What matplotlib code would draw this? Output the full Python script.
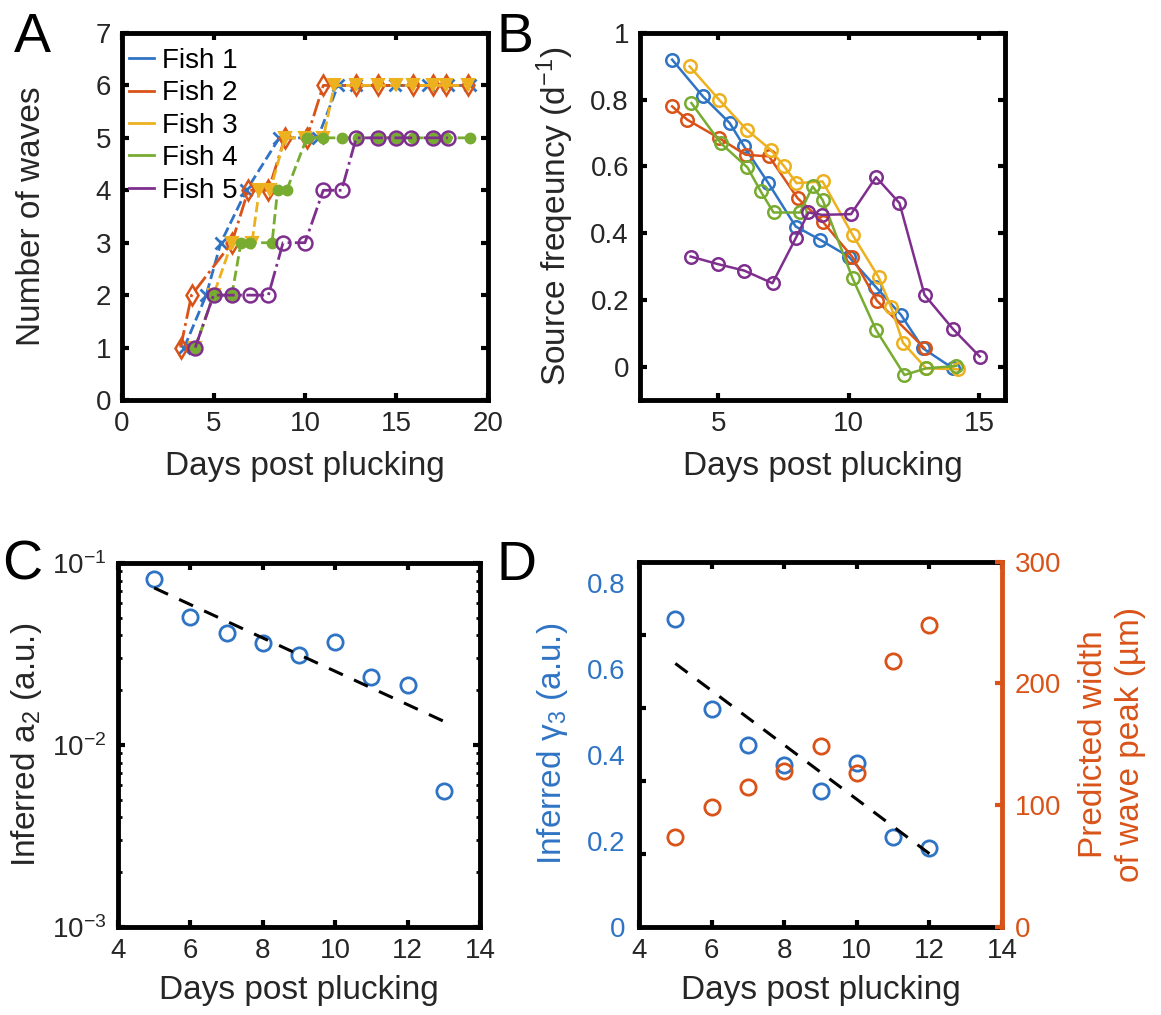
import numpy as np
import matplotlib
matplotlib.use("Agg")
import matplotlib.pyplot as plt
from matplotlib.lines import Line2D

plt.rcParams['font.family'] = ['Liberation Sans', 'DejaVu Sans']
plt.rcParams['mathtext.fontset'] = 'custom'
plt.rcParams['mathtext.rm'] = 'Liberation Sans'
plt.rcParams['mathtext.it'] = 'Liberation Sans:italic'
plt.rcParams['mathtext.default'] = 'regular'

BLUE = '#2f74c4'
ORANGE = '#D95319'
YELLOW = '#EDB120'
PURPLE = '#7E2F8E'
GREEN = '#77AC30'
TXT = '#262626'

# --- A: number of waves per fish ---
fish_labels = ['Fish 1', 'Fish 2', 'Fish 3', 'Fish 4', 'Fish 5']
waves_days = [
    [3.4, 4.6, 5.4, 6.8, 8.6, 10.7, 11.8, 12.8, 14.9, 16.7, 17.8, 19.0],
    [3.2, 3.8, 6.0, 6.9, 8.0, 8.9, 10.1, 11.0, 12.8, 14.0, 15.9, 17.0, 17.7, 18.9],
    [4.0, 5.0, 6.0, 7.1, 7.5, 8.1, 8.9, 10.0, 11.0, 11.6, 12.8, 14.0, 15.0, 15.9, 17.0, 17.7, 18.9],
    [4.0, 5.0, 6.0, 6.5, 7.0, 8.2, 8.5, 9.0, 10.1, 11.0, 12.0, 12.9, 14.0, 15.0, 15.9, 17.0, 17.7, 19.0],
    [4.0, 5.0, 6.0, 7.0, 8.0, 8.8, 10.0, 11.0, 12.0, 12.8, 14.0, 15.0, 15.8, 17.0, 17.8],
]
waves_count = [
    [1, 2, 3, 4, 5, 5, 6, 6, 6, 6, 6, 6],
    [1, 2, 3, 4, 4, 5, 5, 6, 6, 6, 6, 6, 6, 6],
    [1, 2, 3, 3, 4, 4, 5, 5, 5, 6, 6, 6, 6, 6, 6, 6, 6],
    [1, 2, 2, 3, 3, 3, 4, 4, 5, 5, 5, 5, 5, 5, 5, 5, 5, 5],
    [1, 2, 2, 2, 2, 3, 3, 4, 4, 5, 5, 5, 5, 5, 5],
]

# --- B: source frequency per fish ---
freq_days = [
    [3.23, 4.41, 5.44, 5.99, 6.92, 7.97, 8.91, 10.0, 11.03, 12.01, 12.85, 14.0],
    [3.23, 3.81, 5.03, 6.05, 6.95, 8.04, 9.0, 10.13, 11.08, 12.91],
    [3.9, 5.03, 6.09, 7.01, 7.53, 8.0, 9.0, 10.15, 11.15, 11.63, 12.08, 12.97, 14.19],
    [3.97, 5.09, 6.12, 6.63, 7.12, 8.14, 8.62, 9.0, 10.15, 11.05, 12.14, 12.97, 14.13],
    [3.94, 5.0, 5.99, 7.08, 7.97, 8.46, 8.97, 10.09, 11.05, 11.95, 12.91, 14.0, 15.03],
]
freq_vals = [
    [0.92, 0.81, 0.73, 0.66, 0.55, 0.42, 0.38, 0.33, 0.24, 0.155, 0.055, -0.005],
    [0.78, 0.74, 0.685, 0.635, 0.63, 0.505, 0.435, 0.33, 0.198, 0.055],
    [0.90, 0.80, 0.71, 0.65, 0.60, 0.55, 0.555, 0.395, 0.268, 0.178, 0.072, -0.005, -0.008],
    [0.79, 0.67, 0.597, 0.525, 0.462, 0.462, 0.54, 0.50, 0.265, 0.11, -0.025, -0.005, 0.002],
    [0.33, 0.307, 0.288, 0.25, 0.385, 0.462, 0.455, 0.457, 0.568, 0.49, 0.215, 0.113, 0.03],
]

# --- C: inferred a2 ---
a2_days = [5, 6, 7, 8, 9, 10, 11, 12, 13]
a2_vals = [0.0817, 0.0505, 0.0412, 0.0363, 0.0313, 0.037, 0.0236, 0.0214, 0.00559]
a2_fit_days = [5, 13]
a2_fit_vals = [0.073, 0.0135]

# --- D: inferred gamma3 and predicted peak width ---
g3_days = [5, 6, 7, 8, 9, 10, 11, 12]
g3_vals = [0.716, 0.507, 0.424, 0.376, 0.317, 0.382, 0.2096, 0.1824]
g3_fit_days = [5, 12]
g3_fit_vals = [0.613, 0.17]
width_days = [5, 6, 7, 8, 9, 10, 11, 12]
width_vals = [74, 98, 114.5, 128, 148.5, 126, 218, 248]

colors = [BLUE, ORANGE, YELLOW, GREEN, PURPLE]
styles = ['--', '-.', '--', '--', '-.']
markers = [dict(marker='x', ms=9, mew=2),
           dict(marker='d', ms=10, mew=1.8, mfc='none'),
           dict(marker='v', ms=9, mew=1.5),
           dict(marker='.', ms=15),
           dict(marker='o', ms=10, mew=1.8, mfc='none')]

TICK_FS = 20
LABEL_FS = 24


def style_axes(ax, right=True):
    for side, sp in ax.spines.items():
        sp.set_linewidth(3.5)
    ax.tick_params(direction='in', length=5, width=3, top=True, right=right,
                   labelsize=TICK_FS, labelcolor=TXT, pad=8)


fig = plt.figure(figsize=(11.61, 10.15), dpi=100)

# A
axA = fig.add_axes([0.1051, 0.6059, 0.3152, 0.3616])
for i in range(5):
    axA.plot(waves_days[i], waves_count[i], ls=styles[i], color=colors[i],
             lw=2, **markers[i])
axA.set_xlim(0, 20)
axA.set_ylim(0, 7)
axA.set_xticks([0, 5, 10, 15, 20])
axA.set_yticks(range(8))
style_axes(axA)
axA.set_xlabel('Days post plucking', fontsize=LABEL_FS, color=TXT, labelpad=10)
axA.set_ylabel('Number of waves', fontsize=LABEL_FS, color=TXT)
axA.yaxis.set_label_coords(-0.205, 0.5)
handles = [Line2D([], [], color=c, lw=2, ls='-') for c in colors]
axA.legend(handles, fish_labels, loc='upper left', bbox_to_anchor=(0, 0.978),
           frameon=False, fontsize=20, handlelength=0.9, handletextpad=0.3,
           labelspacing=0.23, borderaxespad=0.05, borderpad=0.2)

# B
axB = fig.add_axes([0.5513, 0.6059, 0.3144, 0.3616])
for i in range(5):
    axB.plot(freq_days[i], freq_vals[i], '-o', color=colors[i], lw=1.8,
             ms=9, mew=1.8, mfc='none')
axB.set_xlim(2, 16)
axB.set_ylim(-0.1, 1)
axB.set_xticks([5, 10, 15])
axB.set_yticks([0, 0.2, 0.4, 0.6, 0.8, 1])
axB.set_yticklabels(['0', '0.2', '0.4', '0.6', '0.8', '1'])
style_axes(axB)
axB.set_xlabel('Days post plucking', fontsize=LABEL_FS, color=TXT, labelpad=10)
axB.set_ylabel('Source freqeuncy (d$^{-1}$)', fontsize=LABEL_FS, color=TXT)
axB.yaxis.set_label_coords(-0.175, 0.5)

# C
axC = fig.add_axes([0.1016, 0.0867, 0.3118, 0.3586])
axC.semilogy(a2_days, a2_vals, 'o', color=BLUE, ms=11, mew=2, mfc='none')
axC.semilogy(a2_fit_days, a2_fit_vals, '--', color='k', lw=2.2, dashes=(5, 4))
axC.set_xlim(4, 14)
axC.set_ylim(1e-3, 1e-1)
axC.set_xticks([4, 6, 8, 10, 12, 14])
style_axes(axC)
axC.tick_params(which='minor', direction='in', length=3, width=2,
                left=True, right=True)
axC.set_xlabel('Days post plucking', fontsize=LABEL_FS, color=TXT, labelpad=8)
axC.set_ylabel('Inferred a$_2$ (a.u.)', fontsize=LABEL_FS, color=TXT)
axC.yaxis.set_label_coords(-0.205, 0.5)

# D
axD = fig.add_axes([0.5504, 0.0870, 0.3127, 0.3596])
axD.plot(g3_days, g3_vals, 'o', color=BLUE, ms=11, mew=2, mfc='none')
axD.plot(g3_fit_days, g3_fit_vals, '--', color='k', lw=2.2, dashes=(5, 4))
axD.set_xlim(4, 14)
axD.set_ylim(0, 0.85)
axD.set_xticks([4, 6, 8, 10, 12, 14])
axD.set_yticks([0, 0.2, 0.4, 0.6, 0.8])
axD.set_yticklabels(['0', '0.2', '0.4', '0.6', '0.8'])
axD.set_yticks([0.17, 0.34, 0.51, 0.68], minor=True)
style_axes(axD, right=False)
axD.spines['right'].set_visible(False)
axD.tick_params(axis='y', which='major', length=0, labelcolor=BLUE, pad=10)
axD.tick_params(axis='y', which='minor', direction='in', length=5, width=3,
                left=True, right=False)
axD.set_xlabel('Days post plucking', fontsize=LABEL_FS, color=TXT, labelpad=8)
axD.set_ylabel('Inferred γ$_3$ (a.u.)', fontsize=LABEL_FS, color=BLUE)
axD.yaxis.set_label_coords(-0.19, 0.5)

axD2 = axD.twinx()
axD2.plot(width_days, width_vals, 'o', color=ORANGE, ms=11, mew=2, mfc='none')
axD2.set_ylim(0, 300)
axD2.set_yticks([0, 100, 200, 300])
for side in ['left', 'top', 'bottom']:
    axD2.spines[side].set_visible(False)
axD2.spines['right'].set_color(ORANGE)
axD2.spines['right'].set_linewidth(3.5)
axD2.tick_params(direction='in', length=5, width=3, color=ORANGE,
                 labelsize=TICK_FS, labelcolor=ORANGE, pad=9)
axD2.set_ylabel('Predicted width\nof wave peak (µm)', fontsize=LABEL_FS,
                color=ORANGE, linespacing=1.25)
axD2.yaxis.set_label_coords(1.21, 0.5)

# panel letters
for x, y, s in [(0.012, 0.988, 'A'), (0.428, 0.988, 'B'),
                (0.002, 0.468, 'C'), (0.428, 0.468, 'D')]:
    fig.text(x, y, s, fontsize=40, va='top', ha='left', color='k')

fig.savefig('out.png', dpi=100)
